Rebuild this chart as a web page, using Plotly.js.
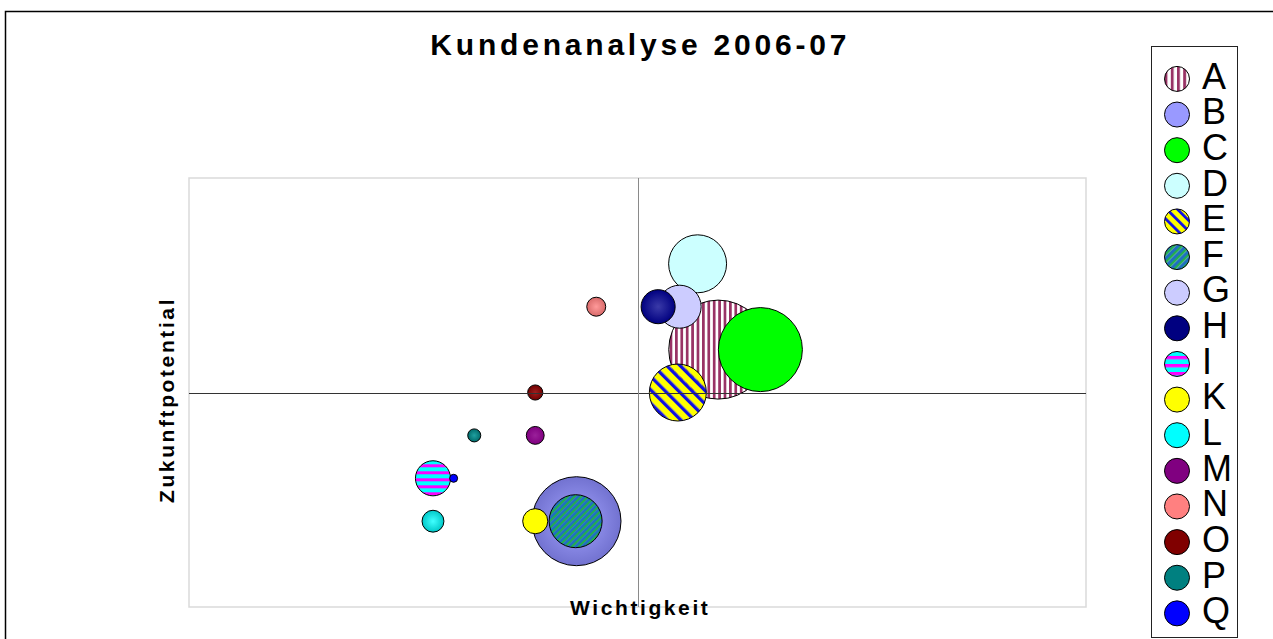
<!DOCTYPE html>
<html><head><meta charset="utf-8">
<script src="https://cdn.plot.ly/plotly-3.0.1.min.js"></script>
<style>
html,body{margin:0;padding:0;background:#fff;}
#chart{width:1273px;height:639px;}
.gtitle{letter-spacing:3.8px;}
.annotation-text{letter-spacing:2.6px;}
</style></head><body><div id="chart"></div>
<script>
// ---- data ----
const customers   = ['A','B','C','D','E','F','G','H','I','K','L','M','N','O','P','Q'];
const wichtigkeit = [59.0,43.2,63.7,56.7,54.5,43.1,54.7,52.3,27.2,38.6,27.2,38.6,45.4,38.6,31.8,29.5];
const zukunft     = [60,20,60,80,50,20,70,70,30,20,20,40,70,50,40,30];
const umsatz      = [98.0,79.2,70.6,33.6,32.5,28.1,18.5,11.6,12.3,6.3,4.8,3.2,3.6,2.3,1.7,0.64];
const chartTitle  = 'Kundenanalyse 2006-07';
const xTitle      = 'Wichtigkeit';
const yTitle      = 'Zukunftpotential';

// ---- styles ----
const fillColors = ['#993366','#7272d0','#00ff00','#ccffff','#ffff00','#1f6fc0','#ccccff','#000080',
                    '#ff00ff','#ffff00','#00c8c8','#800080','#d86a6a','#700000','#006a6a','#0000ff'];
const legendColors = ['#993366','#9999ff','#00ff00','#ccffff','#ffff00','#1f6fc0','#ccccff','#000080',
                      '#ff00ff','#ffff00','#00ffff','#800080','#ff8080','#800000','#008080','#0000ff'];
const gradColors = {1:'#a4a4ff', 7:'#3a3aa8', 10:'#40ffff', 11:'#9a209a', 12:'#ff9a9a', 13:'#a02020', 14:'#20a0a0'};
const patterns = {
  0: {id:'patA', a:'#993366', b:'#ffffff', wa:2.7, wb:2.7, rot:0},
  4: {id:'patE', a:'#1010e0', b:'#ffff00', wa:3.5, wb:6, rot:-45},
  5: {id:'patF', a:'#22b04a', b:'#1f6fc0', wa:2.1, wb:2.7, rot:45},
  8: {id:'patI', a:'#ff00ff', b:'#00ffff', wa:3, wb:4, rot:90}
};

const traces = customers.map((name, i) => {
  const marker = {
    size: [umsatz[i]], sizemode: 'area', sizeref: 0.02,
    color: fillColors[i], opacity: 1,
    line: {color: '#000000', width: 1}
  };
  if (gradColors[i]) marker.gradient = {type: 'radial', color: gradColors[i]};
  return {
    type: 'scatter', mode: 'markers', name: '<span style="font-size:36px">' + name + '</span>',
    x: [wichtigkeit[i]], y: [zukunft[i]], marker: marker, hoverinfo: 'skip'
  };
});

const P = {l:189, r:187, t:178, b:32, W:1273, H:639};
const pw = P.W - P.l - P.r, ph = P.H - P.t - P.b;
const px2x = v => (v - P.l) / pw;
const px2y = v => (P.H - P.b - v) / ph;

const layout = {
  width: P.W, height: P.H,
  margin: {l:P.l, r:P.r, t:P.t, b:P.b, autoexpand:false},
  paper_bgcolor: '#ffffff', plot_bgcolor: '#ffffff',
  font: {family: 'Liberation Sans, Arial, sans-serif', color: '#000'},
  title: {text: chartTitle, font: {size: 30, weight: 'bold', color: '#000'},
          x: 0.503, xanchor: 'center', xref: 'container', y: 1 - 44/639, yanchor: 'middle', yref: 'container'},
  xaxis: {range: [0, 100], showgrid: false, zeroline: false, showticklabels: false, ticks: '',
          showline: true, linecolor: '#333333', linewidth: 1.5, anchor: 'free', position: 0.5, fixedrange: true},
  yaxis: {range: [0, 100], showgrid: false, zeroline: false, showticklabels: false, ticks: '',
          showline: true, linecolor: '#8a8a8a', linewidth: 1.5, anchor: 'free', position: 0.5, fixedrange: true},
  showlegend: true,
  legend: {x: px2x(1151), xanchor: 'left', y: px2y(46), yanchor: 'top',
           bgcolor: '#ffffff', bordercolor: '#222222', borderwidth: 1,
           font: {size: 25.1, color: '#000', family: 'Liberation Sans, Arial, sans-serif'},
           title: {text: ' ', font: {size: 7}},
           itemwidth: 40, itemsizing: 'trace', maxheight: 1000},
  shapes: [
    {type: 'rect', xref: 'paper', yref: 'paper', x0: 0, x1: 1, y0: 0, y1: 1,
     line: {color: '#dadada', width: 1.5}, layer: 'below'},
    {type: 'rect', xref: 'paper', yref: 'paper', x0: px2x(5.5), x1: 2, y0: -1, y1: px2y(11.5),
     line: {color: '#000000', width: 1.5}, layer: 'above'}
  ],
  annotations: [
    {text: xTitle, xref: 'paper', yref: 'paper', x: px2x(640), y: px2y(607), xanchor: 'center', yanchor: 'middle',
     showarrow: false, font: {size: 21, weight: 'bold', color: '#000'}},
    {text: yTitle, xref: 'paper', yref: 'paper', x: px2x(166), y: px2y(400), xanchor: 'center', yanchor: 'middle',
     textangle: -90, showarrow: false, font: {size: 21, weight: 'bold', color: '#000'}}
  ]
};

const gd = document.getElementById('chart');
Plotly.newPlot(gd, traces, layout, {staticPlot: true, displayModeBar: false}).then(() => {
  const NS = 'http://www.w3.org/2000/svg';
  const svg = gd.querySelector('svg.main-svg');
  let defs = svg.querySelector('defs');
  if (!defs) { defs = document.createElementNS(NS, 'defs'); svg.insertBefore(defs, svg.firstChild); }
  function makePattern(id, spec, k) {
    const pat = document.createElementNS(NS, 'pattern');
    const w = (spec.wa + spec.wb) * k;
    pat.setAttribute('id', id);
    pat.setAttribute('patternUnits', 'userSpaceOnUse');
    pat.setAttribute('width', w);
    pat.setAttribute('height', 20);
    if (spec.rot) pat.setAttribute('patternTransform', 'rotate(' + spec.rot + ')');
    const r1 = document.createElementNS(NS, 'rect');
    r1.setAttribute('x', 0); r1.setAttribute('y', 0); r1.setAttribute('width', spec.wa * k); r1.setAttribute('height', 20);
    r1.setAttribute('fill', spec.a);
    const r2 = document.createElementNS(NS, 'rect');
    r2.setAttribute('x', spec.wa * k); r2.setAttribute('y', 0); r2.setAttribute('width', spec.wb * k); r2.setAttribute('height', 20);
    r2.setAttribute('fill', spec.b);
    pat.appendChild(r1); pat.appendChild(r2);
    defs.appendChild(pat);
  }
  Object.values(patterns).forEach(s => makePattern(s.id, s, 1));
  gd.querySelectorAll('.scatterlayer .trace').forEach((g, i) => {
    if (patterns[i]) g.querySelectorAll('path.point').forEach(p => { p.style.fill = 'url(#' + patterns[i].id + ')'; });
  });
  gd.querySelectorAll('.legend .traces').forEach((g, i) => {
    const p = g.querySelector('path.scatterpts');
    if (!p) return;
    const bb = p.getBBox();
    const k = bb.width > 0 ? 25 / bb.width : 1;
    p.setAttribute('transform', (p.getAttribute('transform') || '') + ' scale(' + k + ')');
    p.setAttribute('vector-effect', 'non-scaling-stroke');
    p.style.fill = legendColors[i];
    if (patterns[i]) {
      const id = patterns[i].id + 'L';
      makePattern(id, patterns[i], 1 / k * (i === 4 ? 0.8 : 1.15));
      p.style.fill = 'url(#' + id + ')';
    }
  });
});
</script>
</body></html>
